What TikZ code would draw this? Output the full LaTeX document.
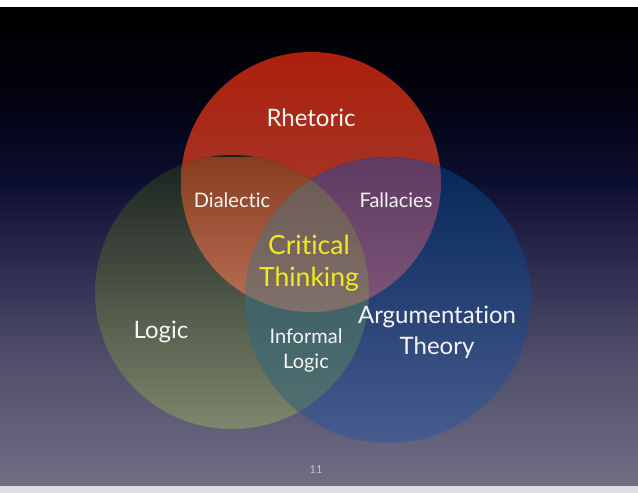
\documentclass[tikz,border=0pt]{standalone}
\usepackage{fontspec}
\setmainfont{Lato}[Ligatures=NoCommon]
\usetikzlibrary{positioning}

\definecolor{bgbot}{RGB}{112,110,132}
\definecolor{bgA}{RGB}{78,75,104}
\definecolor{bgB}{RGB}{42,42,78}
\definecolor{bgC}{RGB}{12,14,48}
\definecolor{bgD}{RGB}{3,3,16}
\definecolor{stripgray}{RGB}{222,222,226}
\definecolor{redtop}{RGB}{172,32,12}
\definecolor{redbot}{RGB}{160,70,60}
\definecolor{greentop}{RGB}{25,33,32}
\definecolor{greenbot}{RGB}{126,134,108}
\definecolor{bluetop}{RGB}{5,38,90}
\definecolor{bluebot}{RGB}{72,92,142}
\definecolor{dialtop}{RGB}{136,61,30}
\definecolor{dialbot}{RGB}{185,113,88}
\definecolor{falltop}{RGB}{95,58,98}
\definecolor{fallbot}{RGB}{125,85,120}
\definecolor{inftop}{RGB}{62,98,104}
\definecolor{infbot}{RGB}{82,112,112}
\definecolor{coretop}{RGB}{108,92,85}
\definecolor{corebot}{RGB}{128,112,106}
\definecolor{textwhite}{RGB}{245,245,245}
\definecolor{coreyellow}{RGB}{240,235,30}
\definecolor{pagegray}{RGB}{195,195,205}

\pgfdeclareverticalshading{slidebg}{100bp}{color(0bp)=(bgbot); color(25bp)=(bgbot); color(39.1bp)=(bgA); color(48.5bp)=(bgB); color(56.9bp)=(bgC); color(65.25bp)=(bgD); color(75bp)=(black); color(100bp)=(black)}

\newcommand{\rhetoricpath}{(rhetoricC) circle[radius=130pt]}
\newcommand{\logicpath}{(logicC) circle[radius=137pt]}
\newcommand{\argpath}{(argC) circle[radius=143pt]}

\tikzset{
	setname/.style={text=textwhite, font=\fontsize{24}{31}\selectfont, align=center, inner sep=0pt, anchor=base},
	overlapname/.style={text=textwhite, font=\fontsize{20}{25}\selectfont, align=center, inner sep=0pt, anchor=base},
	corename/.style={text=coreyellow, font=\fontsize{26.5}{32}\selectfont, align=center, inner sep=0pt, anchor=base}
}

\begin{document}
\begin{tikzpicture}[x=1pt, y=-1pt]

		% slide background
		\useasboundingbox (0,0) rectangle (638,493);
		\fill[white] (0,0) rectangle (638,493);
		\fill[stripgray] (0,485) rectangle (638,493);
		\shade[shading=slidebg] (0,7) rectangle (638,485);

		\coordinate (rhetoricC) at (311,182);
		\coordinate (logicC) at (232,292);
		\coordinate (argC) at (388,300);

		% the three sets
		\shade[top color=redtop, bottom color=redbot] \rhetoricpath;
		\shade[top color=greentop, bottom color=greenbot] \logicpath;
		\shade[top color=bluetop, bottom color=bluebot] \argpath;

		% overlaps
		\begin{scope}
			\clip \rhetoricpath;
			\clip \logicpath;
			\shade[top color=dialtop, bottom color=dialbot] (90,157) rectangle (380,312);
		\end{scope}
		\begin{scope}
			\clip \rhetoricpath;
			\clip \argpath;
			\shade[top color=falltop, bottom color=fallbot] (240,157) rectangle (450,312);
		\end{scope}
		\begin{scope}
			\clip \logicpath;
			\clip \argpath;
			\shade[top color=inftop, bottom color=infbot] (240,290) rectangle (380,430);
		\end{scope}
		\begin{scope}
			\clip \rhetoricpath;
			\clip \logicpath;
			\clip \argpath;
			\shade[top color=coretop, bottom color=corebot] (240,180) rectangle (380,312);
		\end{scope}

		% labels (two-line ones sit on their last baseline)
		\node[setname](rhetoricL) at (311,126){Rhetoric};
		\node[setname](logicL) at (161,338){Logic};
		\node[setname](argumentL) at (437,354){Argumentation\\Theory};
		\node[overlapname](dialecticL) at (232,207){Dialectic};
		\node[overlapname](fallaciesL) at (396,207){Fallacies};
		\node[overlapname](informalL) at (306,368){Informal\\Logic};
		\node[corename](criticalL) at (309,286){Critical\\Thinking};
		\node[text=pagegray, font=\fontsize{11}{13}\selectfont, inner sep=0pt, anchor=base](pageL) at (316,473){11};

	\end{tikzpicture}
\end{document}
